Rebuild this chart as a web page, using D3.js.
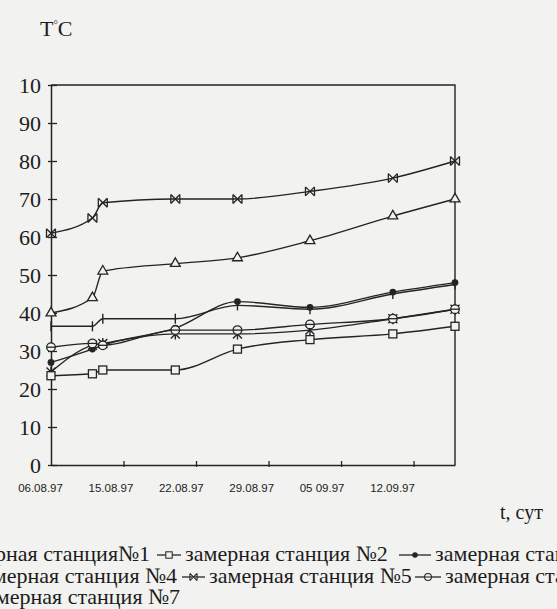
<!DOCTYPE html>
<html>
<head>
<meta charset="utf-8">
<script src="https://cdn.jsdelivr.net/npm/d3@7"></script>
<style>
  html, body { margin: 0; padding: 0; background: #f2f2f0; }
  svg { display: block; }
</style>
</head>
<body>
<script>
// Measurement days, counted from 06.08.97
const days = [0, 4, 5, 12, 18, 25, 33, 39];

// Temperature at each measuring station, °C
const station1 = [24.5, 31.5, 32, 34.5, 34.5, 35.5, 38.5, 41];
const station2 = [23.5, 24, 25, 25, 30.5, 33, 34.5, 36.5];
const station3 = [27, 30.5, 31.5, 36, 43, 41.5, 45.5, 48];
const station4 = [40, 44, 51, 53, 54.5, 59, 65.5, 70];
const station5 = [61, 65, 69, 70, 70, 72, 75.5, 80];
const station6 = [31, 32, 31.5, 35.5, 35.5, 37, 38.5, 41];
const station7 = [36.5, 36.5, 38.5, 38.5, 42, 41, 45, 47.5];

const stationNames = [
  "замерная станция№1", "замерная станция №2", "замерная станция №3",
  "замерная станция №4", "замерная станция №5", "замерная станция №6",
  "замерная станция №7"
];

// Axis ticks and date labels
const xTickDays = [7, 14, 21, 28, 35];
const xDateLabels = ["06.08.97", "15.08.97", "22.08.97", "29.08.97", "05 09.97", "12.09.97"];
const yTickValues = [0, 10, 20, 30, 40, 50, 60, 70, 80, 90, 100];
const yTickLabels = ["0", "10", "20", "30", "40", "50", "60", "70", "80", "90", "10"];

const W = 557, H = 609;
const plot = { left: 51, right: 455, top: 85, bottom: 465 };
const paper = "#f2f2f0";

const svg = d3.select("body").append("svg")
  .attr("width", W).attr("height", H);

svg.append("rect").attr("width", W).attr("height", H).attr("fill", paper);

const x = d3.scaleLinear().domain([0, 39]).range([plot.left, plot.right]);
const y = d3.scaleLinear().domain([0, 100]).range([plot.bottom, plot.top]);
// Date captions are spread evenly under the axis
const xDates = d3.scalePoint().domain(xDateLabels).range([40, 392]);

const ink = "#242424";
const serif = "'Liberation Serif', 'DejaVu Serif', serif";
const sans = "'Liberation Sans', Arial, sans-serif";

// Frame: top and right edges
svg.append("path")
  .attr("d", `M${plot.left},${plot.top}H${plot.right}V${plot.bottom}`)
  .attr("fill", "none").attr("stroke", ink).attr("stroke-width", 1.4);

// Y axis with cross ticks
const yAxis = d3.axisLeft(y)
  .tickValues(yTickValues)
  .tickSizeInner(-6).tickSizeOuter(0)
  .tickFormat((d, i) => yTickLabels[i]);
const gy = svg.append("g").attr("transform", `translate(${plot.left},0)`).call(yAxis);
gy.select(".domain").attr("stroke", ink).attr("stroke-width", 1.5);
gy.selectAll(".tick line").attr("stroke", ink).attr("stroke-width", 1.3)
  .attr("x1", -3).attr("x2", 6);
gy.selectAll(".tick text")
  .attr("font-family", serif).attr("font-size", 22).attr("fill", "#1c1c1c")
  .attr("x", -10).attr("dy", "0.34em");

// X axis: tick marks on the day scale
const xAxis = d3.axisBottom(x)
  .tickValues(xTickDays)
  .tickSizeInner(-4).tickSizeOuter(0)
  .tickFormat("");
const gx = svg.append("g").attr("transform", `translate(0,${plot.bottom})`).call(xAxis);
gx.select(".domain").attr("stroke", ink).attr("stroke-width", 1.5);
gx.selectAll(".tick line").attr("stroke", ink).attr("stroke-width", 1.3)
  .attr("y1", 2).attr("y2", -4);

// Date captions
const gd = svg.append("g").attr("transform", `translate(0,${plot.bottom})`)
  .call(d3.axisBottom(xDates).tickSize(0).tickPadding(19));
gd.select(".domain").remove();
gd.selectAll(".tick text")
  .attr("font-family", sans).attr("font-size", 11.5).attr("fill", "#1c1c1c");

// Axis titles
const yTitle = svg.append("text")
  .attr("x", 40).attr("y", 36)
  .attr("font-family", serif).attr("font-size", 22).attr("fill", "#1c1c1c");
yTitle.append("tspan").text("T");
yTitle.append("tspan").attr("dy", -8).attr("font-size", 11).text("°");
yTitle.append("tspan").attr("dy", 8).text("C");

svg.append("text")
  .attr("x", 500).attr("y", 519)
  .attr("font-family", serif).attr("font-size", 20).attr("fill", "#1c1c1c")
  .text("t, сут");

// Marker painters
function marker(g, type) {
  const s = 4.5;
  switch (type) {
    case "square":
      g.append("rect").attr("x", -4).attr("y", -4).attr("width", 8).attr("height", 8)
        .attr("fill", paper).attr("stroke", ink).attr("stroke-width", 1.3);
      break;
    case "dot":
      g.append("circle").attr("r", 3.4).attr("fill", ink);
      break;
    case "triangle":
      g.append("path").attr("d", d3.symbol(d3.symbolTriangle, 42)())
        .attr("fill", paper).attr("stroke", ink).attr("stroke-width", 1.3);
      break;
    case "cross":
      g.append("path").attr("d", `M${-s},${-s}L${s},${s}M${-s},${s}L${s},${-s}M${-s},${-s}V${s}M${s},${-s}V${s}`)
        .attr("fill", "none").attr("stroke", ink).attr("stroke-width", 1.3);
      break;
    case "circle":
      g.append("circle").attr("r", 4.3)
        .attr("fill", paper).attr("stroke", ink).attr("stroke-width", 1.3);
      g.append("path").attr("d", "M-4.3,0H4.3").attr("stroke", ink).attr("stroke-width", 1.3);
      break;
    case "asterisk":
      g.append("path").attr("d", `M${-s},${-s}L${s},${s}M${-s},${s}L${s},${-s}M0,${-s - 1}V${s + 1}`)
        .attr("fill", "none").attr("stroke", ink).attr("stroke-width", 1.4);
      break;
    case "tick":
      g.append("path").attr("d", "M0,-5V5")
        .attr("fill", "none").attr("stroke", ink).attr("stroke-width", 1.4);
      break;
  }
}

const series = [
  { name: stationNames[0], values: station1, mark: "asterisk" },
  { name: stationNames[1], values: station2, mark: "square" },
  { name: stationNames[2], values: station3, mark: "dot" },
  { name: stationNames[3], values: station4, mark: "triangle" },
  { name: stationNames[4], values: station5, mark: "cross" },
  { name: stationNames[5], values: station6, mark: "circle" },
  { name: stationNames[6], values: station7, mark: "tick" }
];

const line = d3.line()
  .x((d, i) => x(days[i]))
  .y(d => y(d))
  .curve(d3.curveMonotoneX);

const gSeries = svg.append("g");
series.forEach(s => {
  gSeries.append("path")
    .attr("d", line(s.values))
    .attr("fill", "none").attr("stroke", ink).attr("stroke-width", 1.4);
});
series.forEach(s => {
  s.values.forEach((v, i) => {
    const g = gSeries.append("g").attr("transform", `translate(${x(days[i])},${y(v)})`);
    marker(g, s.mark);
  });
});

// Legend: three rows, each entry is a marker sample followed by its label
const legendFont = 22;
const legendRows = [
  { y: 561, items: [
    { s: 0, textEnd: 150 },
    { s: 1, lineFrom: 157, lineTo: 181 },
    { s: 2, lineFrom: 399, lineTo: 431 }
  ]},
  { y: 583, items: [
    { s: 3, textEnd: 177 },
    { s: 4, lineFrom: 182, lineTo: 205 },
    { s: 5, lineFrom: 415, lineTo: 441 }
  ]},
  { y: 604, items: [
    { s: 6, textEnd: 180 }
  ]}
];

const gLegend = svg.append("g");
legendRows.forEach(row => {
  row.items.forEach(it => {
    const s = series[it.s];
    if (it.textEnd !== undefined) {
      gLegend.append("text")
        .attr("x", it.textEnd).attr("y", row.y)
        .attr("text-anchor", "end")
        .attr("font-family", serif).attr("font-size", legendFont).attr("fill", "#1c1c1c")
        .text(s.name);
    } else {
      const cy = row.y - 6;
      gLegend.append("path")
        .attr("d", `M${it.lineFrom},${cy}H${it.lineTo}`)
        .attr("stroke", ink).attr("stroke-width", 1.3);
      const g = gLegend.append("g")
        .attr("transform", `translate(${(it.lineFrom + it.lineTo) / 2},${cy}) scale(0.8)`);
      marker(g, s.mark);
      gLegend.append("text")
        .attr("x", it.lineTo + 4).attr("y", row.y)
        .attr("font-family", serif).attr("font-size", legendFont).attr("fill", "#1c1c1c")
        .text(s.name);
    }
  });
});
</script>
</body>
</html>
